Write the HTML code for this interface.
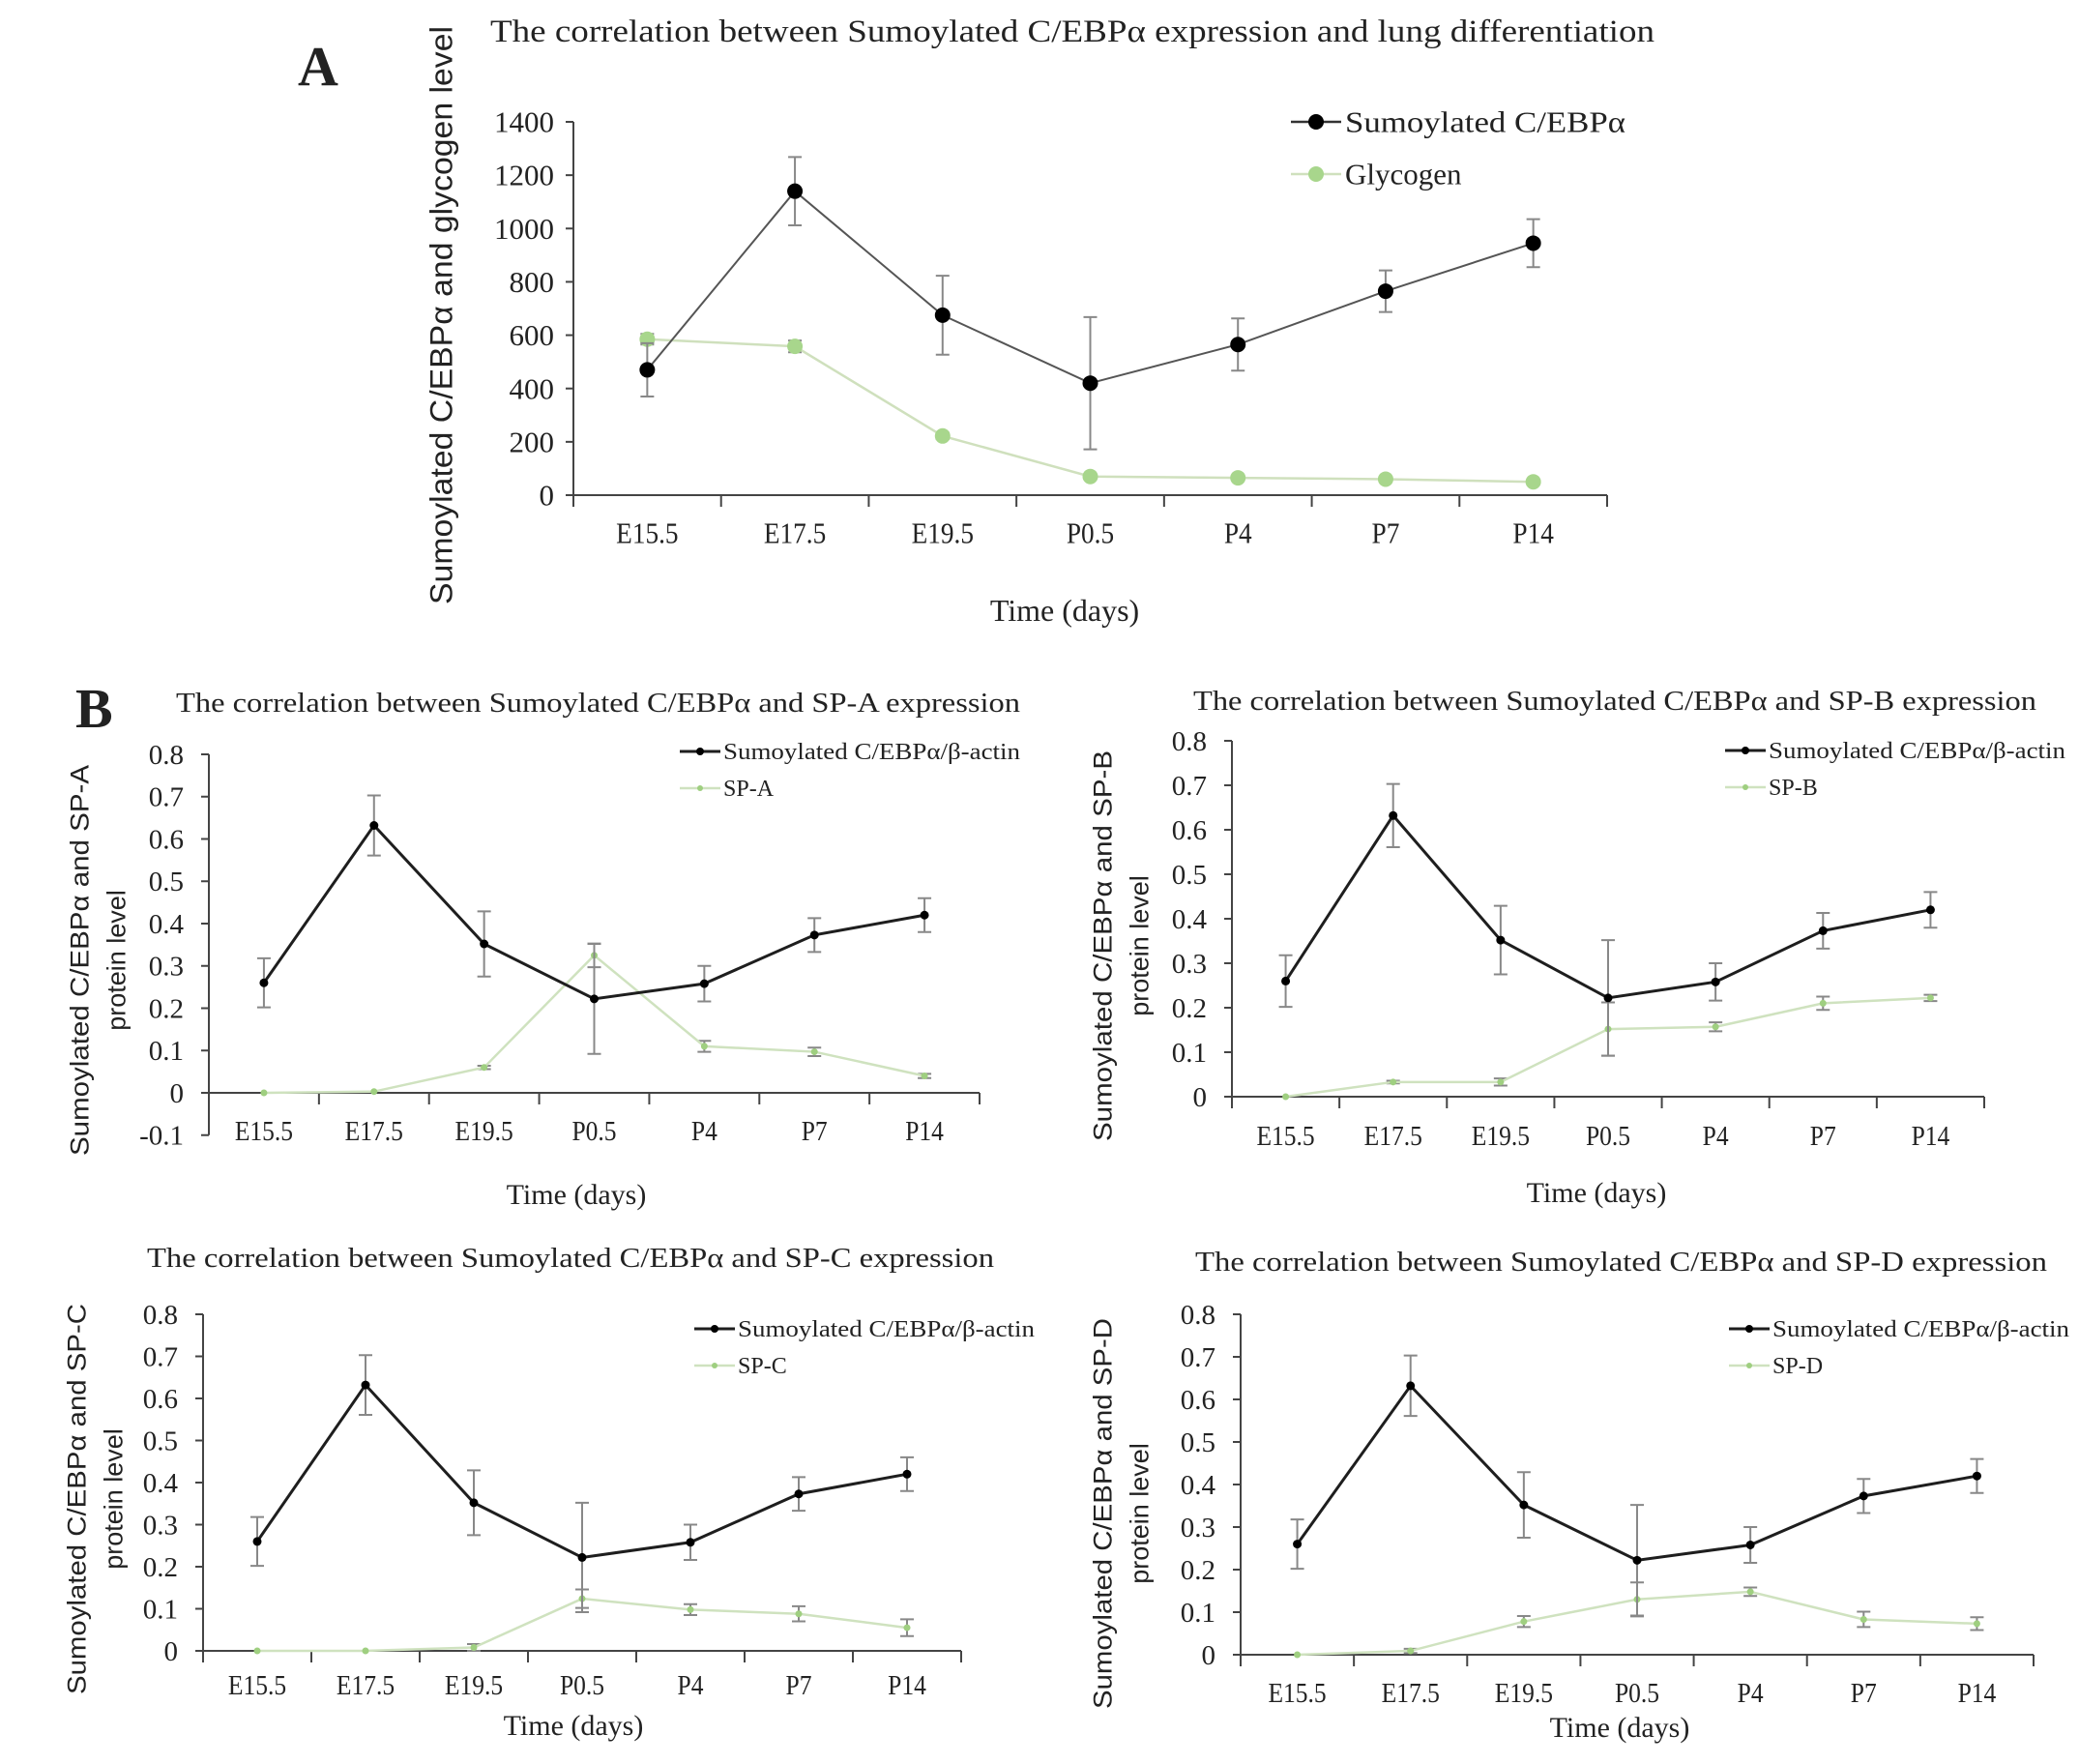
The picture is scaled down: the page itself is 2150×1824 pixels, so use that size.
<!DOCTYPE html>
<html><head><meta charset="utf-8"><style>
html,body{margin:0;padding:0;background:#fff;}
svg{display:block;}
text{font-family:"Liberation Serif",serif;fill:#222;}
.sans{font-family:"Liberation Sans",sans-serif;}
</style></head><body>
<svg id="fig" width="2150" height="1824" viewBox="0 0 2150 1824" xmlns="http://www.w3.org/2000/svg">
<text x="308" y="88" font-size="58" font-weight="bold">A</text>
<text x="78" y="752" font-size="58" font-weight="bold">B</text>
</svg>
<script>
const categories = ["E15.5","E17.5","E19.5","P0.5","P4","P7","P14"];
// Panel A
const sumoA = [470,1140,675,420,565,765,945];
const sumoAErr = [100,128,148,248,98,78,90];
const glycogen = [585,558,222,70,65,60,50];
const glycogenErr = [20,22,12,8,6,6,6];
const ticksA = [0,200,400,600,800,1000,1200,1400];
// Panel B
const sumoB = [0.26,0.632,0.352,0.222,0.258,0.373,0.42];
const sumoBErr = [0.058,0.071,0.077,0.13,0.042,0.04,0.04];
const spA = [0,0.003,0.06,0.325,0.11,0.097,0.04];
const spAErr = [0,0,0.004,0.028,0.013,0.01,0.005];
const spB = [0,0.033,0.033,0.152,0.157,0.21,0.222];
const spBErr = [0,0.003,0.008,0.06,0.01,0.015,0.007];
const spC = [0,0,0.008,0.124,0.098,0.088,0.055];
const spCErr = [0,0,0.008,0.022,0.013,0.018,0.02];
const spD = [0,0.009,0.078,0.13,0.148,0.083,0.073];
const spDErr = [0,0.005,0.013,0.04,0.01,0.018,0.015];
const ticksB1 = [-0.1,0,0.1,0.2,0.3,0.4,0.5,0.6,0.7,0.8];
const ticksB = [0,0.1,0.2,0.3,0.4,0.5,0.6,0.7,0.8];

const NS="http://www.w3.org/2000/svg";
const svg=document.getElementById('fig');
function el(tag,attrs,parent,txt){const e=document.createElementNS(NS,tag);for(const k in attrs)e.setAttribute(k,attrs[k]);if(txt!==undefined)e.textContent=txt;(parent||svg).appendChild(e);return e;}

function panel(c){
  const g=el('g',{});
  
  
  const band=(c.x1-c.x0)/categories.length;
  const xs=i=>c.x0+band*(i+0.5);
  const ys=v=>c.yZero-(v-0)*(c.yZero-c.yTop)/(c.vTop);
  const t=el('text',{x:c.titleX,y:c.titleY,'font-size':c.titleSize,textLength:c.titleW,lengthAdjust:'spacingAndGlyphs'},g,c.title);
  
  
  const yb=ys(c.ticks[0]);
  const ya=el('line',{x1:c.x0,y1:yb,x2:c.x0,y2:ys(c.ticks[c.ticks.length-1]),stroke:'#444','stroke-width':2},g);
  
  
  c.ticks.forEach(v=>{
    el('line',{x1:c.x0-8,y1:ys(v),x2:c.x0,y2:ys(v),stroke:'#444','stroke-width':2},g);
    const tl=el('text',{x:c.x0-c.tickGap,y:ys(v)+c.tickSize*0.34,'font-size':c.tickSize,'text-anchor':'end'},g,String(v));
    
    
  });
  const xa=el('line',{x1:c.x0,y1:c.yZero,x2:c.x1,y2:c.yZero,stroke:'#444','stroke-width':2},g);
  
  
  for(let i=0;i<=categories.length;i++){
    el('line',{x1:c.x0+band*i,y1:c.yZero,x2:c.x0+band*i,y2:c.yZero+12,stroke:'#444','stroke-width':2},g);
  }
  categories.forEach((cat,i)=>{
    const tl=el('text',{x:0,y:0,'font-size':c.tickSize,'text-anchor':'middle',transform:`translate(${xs(i)},${c.xLabY+c.tickSize*0.34}) scale(0.88,1)`},g,cat);
    
    
  });
  const xt=el('text',{x:c.xTitleX,y:c.xTitleY+c.axisTitleSize*0.34,'font-size':c.axisTitleSize,'text-anchor':'middle'},g,'Time (days)');
  
  
  c.yTitle.forEach((line,k)=>{
    const yt=el('text',{x:0,y:0,'font-size':c.yTitleSize,'text-anchor':'middle','class':'sans',transform:`translate(${c.yTitleX[k]+c.yTitleSize*0.36},${c.yTitleCY}) rotate(-90)`},g,line);
    if(c.yTitleW[k])yt.setAttribute('textLength',c.yTitleW[k]);
    yt.setAttribute('lengthAdjust','spacingAndGlyphs');
    
    
  });
  c.series.forEach(s=>{
    const sg=el('g',{},g);
    
    
    s.vals.forEach((v,i)=>{
      const e=s.err[i];
      if(e>0){
        const eb=el('path',{d:`M${xs(i)},${ys(v-e)}V${ys(v+e)}M${xs(i)-7},${ys(v-e)}h14M${xs(i)-7},${ys(v+e)}h14`,stroke:'#888','stroke-width':2,fill:'none'},sg);
        
        
      }
    });
    const pts=s.vals.map((v,i)=>xs(i)+','+ys(v)).join(' ');
    const pl=el('polyline',{points:pts,fill:'none',stroke:s.line,'stroke-width':s.lw},sg);
    
    
    s.vals.forEach((v,i)=>{
      const m=el('circle',{cx:xs(i),cy:ys(v),r:s.r,fill:s.marker},sg);
      
      
    });
  });
  c.legend.forEach((L,k)=>{
    const lg=el('g',{},g);
    
    
    el('line',{x1:c.legX0,y1:L.y,x2:c.legX1,y2:L.y,stroke:L.line,'stroke-width':L.lw},lg);
    el('circle',{cx:(c.legX0+c.legX1)/2,cy:L.y,r:L.r,fill:L.marker},lg);
    const lt=el('text',{x:c.legTX,y:L.y+c.legSize*0.34,'font-size':c.legSize},lg,L.text);
    if(L.w){lt.setAttribute('textLength',L.w);lt.setAttribute('lengthAdjust','spacingAndGlyphs');}
  });
}

const BLK='#1e1e1e', GL='#cfe2bf', GM='#9fcf80';
panel({name:'panel-a-chart',x0:593,x1:1662,yZero:512,yTop:126,vTop:1400,ticks:ticksA,tickSize:31,tickGap:20,
 title:'The correlation between Sumoylated C/EBPα expression and lung differentiation',titleX:507,titleY:43,titleSize:33,titleW:1204,
 xLabY:551,xTitleX:1101,xTitleY:631,axisTitleSize:32,
 yTitle:['Sumoylated C/EBPα and glycogen level'],yTitleX:[456],yTitleCY:326,yTitleSize:32,yTitleW:[598],
 series:[{name:'glycogen-series',vals:glycogen,err:glycogenErr,line:'#cfe0bd',lw:2.5,marker:'#a8d68c',r:8},
         {name:'sumoylated-series',vals:sumoA,err:sumoAErr,line:'#555',lw:2,marker:'#000',r:8}],
 legX0:1335,legX1:1387,legTX:1391,legSize:31,
 legend:[{text:'Sumoylated C/EBPα',y:126,line:'#333',lw:2.5,marker:'#000',r:8,w:290},
         {text:'Glycogen',y:180,line:'#cfe0bd',lw:2.5,marker:'#a8d68c',r:8}]});

function bPanel(o){
  panel({name:o.name,x0:o.x0,x1:o.x1,yZero:o.yZero,yTop:o.yTop,vTop:0.8,ticks:o.ticks,tickSize:29,tickGap:26,
   title:'The correlation between Sumoylated C/EBPα and '+o.sp+' expression',titleX:o.tx,titleY:o.ty+9,titleSize:29,titleW:o.tw,
   xLabY:o.xly,xTitleX:o.xtx,xTitleY:o.xty,axisTitleSize:30,
   yTitle:['Sumoylated C/EBPα and '+o.sp,'protein level'],yTitleX:[o.ytx-7,o.ytx+31],yTitleCY:o.ycy,yTitleSize:27,yTitleW:[404,null],
   series:[{name:o.sp.toLowerCase()+'-series',vals:o.vals,err:o.err,line:GL,lw:2.5,marker:GM,r:3.5},
           {name:'sumoylated-series',vals:sumoB,err:sumoBErr,line:BLK,lw:3,marker:'#000',r:4.5}],
   legX0:o.lx,legX1:o.lx+42,legTX:o.lx+45,legSize:24,
   legend:[{text:'Sumoylated C/EBPα/β-actin',y:o.ly,line:BLK,lw:3,marker:'#000',r:4,w:307},
           {text:o.sp,y:o.ly+38,line:GL,lw:2.5,marker:GM,r:3}]});
}
bPanel({name:'panel-b-spa-chart',sp:'SP-A',vals:spA,err:spAErr,x0:216,x1:1013,yZero:1130,yTop:780,ticks:ticksB1,
 tx:182,ty:727,tw:873,xly:1169,xtx:596,xty:1235,ytx:89,ycy:993,lx:703,ly:777});
bPanel({name:'panel-b-spb-chart',sp:'SP-B',vals:spB,err:spBErr,x0:1274,x1:2052,yZero:1134,yTop:766,ticks:ticksB,
 tx:1234,ty:725,tw:872,xly:1174,xtx:1651,xty:1233,ytx:1147,ycy:978,lx:1784,ly:776});
bPanel({name:'panel-b-spc-chart',sp:'SP-C',vals:spC,err:spCErr,x0:210,x1:994,yZero:1707,yTop:1359,ticks:ticksB,
 tx:152,ty:1301,tw:876,xly:1742,xtx:593,xty:1784,ytx:86,ycy:1550,lx:718,ly:1374});
bPanel({name:'panel-b-spd-chart',sp:'SP-D',vals:spD,err:spDErr,x0:1283,x1:2103,yZero:1711,yTop:1359,ticks:ticksB,
 tx:1236,ty:1305,tw:881,xly:1750,xtx:1675,xty:1786,ytx:1147,ycy:1565,lx:1788,ly:1374});
</script>
</body></html>
